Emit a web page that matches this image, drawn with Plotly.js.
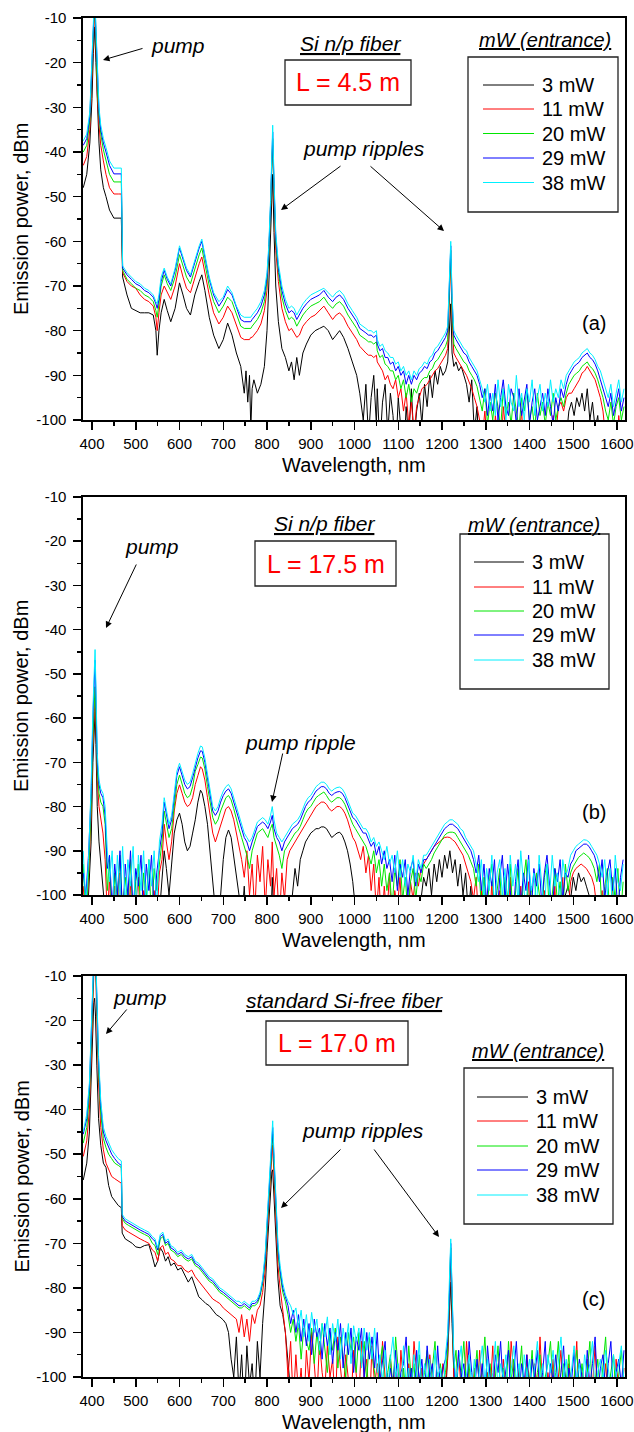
<!DOCTYPE html>
<html><head><meta charset="utf-8">
<script src="https://cdn.plot.ly/plotly-3.0.1.min.js"></script>
<style>html,body{margin:0;padding:0;background:#fff}#chart{width:634px;height:1432px}</style>
</head><body><div id="chart"></div>
<script>
// ---------------- DATA ----------------
const seriesNames = ['3 mW','11 mW','20 mW','29 mW','38 mW'];
const seriesColors = ['#000000','#ff0000','#00e600','#0000ff','#00f0ff'];
const xTickVals = [400,500,600,700,800,900,1000,1100,1200,1300,1400,1500,1600];
const xTickText = ['400','500','600','700','800','900','1000','1100','1200','1300','1400','1500','1600'];
const yTickVals = [-10,-20,-30,-40,-50,-60,-70,-80,-90,-100];
const yTickText = ['-10','-20','-30','-40','-50','-60','-70','-80','-90','-100'];

// Panel (a): Si n/p fiber, L = 4.5 m
const xA = [
380,388,395,400,403,406,409,412,416,420,
426,432,440,450,460,467,470,480,490,500,
510,520,530,540,546,549,553,558,565,572,
580,590,600,608,616,625,635,645,651,658,
668,678,690,700,710,720,730,740,748,752,
756,760,763,766,770,778,786,794,800,804,
808,811,813,816,820,826,834,842,850,856,
862,868,874,882,890,900,910,920,930,940,
950,958,966,975,985,995,1005,1012,1020,1026,
1032,1038,1044,1050,1052,1058,1064,1070,1076,1082,
1088,1094,1100,1106,1112,1118,1124,1130,1136,1142,
1148,1154,1160,1166,1172,1178,1184,1190,1196,1202,
1208,1213,1217,1220,1223,1227,1232,1238,1244,1250,
1256,1262,1268,1274,1280,1286,1292,1298,1304,1310,
1316,1322,1328,1334,1340,1346,1352,1358,1364,1370,
1376,1382,1388,1394,1400,1406,1412,1418,1424,1430,
1436,1442,1448,1454,1460,1466,1472,1478,1484,1490,
1496,1502,1508,1514,1520,1526,1532,1538,1544,1550,
1556,1562,1568,1574,1580,1586,1592,1598,1604,1610,
1616];
const a38 = [
-37.5,-36,-31,-20,-10,-4,-12,-22,-30,-34,
-37,-39,-42,-43.6,-43.6,-43.6,-65.5,-67,-68,-69,
-69.5,-70.5,-71,-72,-73.5,-74,-72,-68,-66,-68,
-69.5,-66,-61,-63.5,-66,-67.5,-64,-61,-59.5,-63,
-68,-71.5,-73.5,-72.5,-70,-71.5,-74.5,-76.5,-77,-77,
-77,-77,-77,-76.5,-76,-75,-73.5,-71,-67,-61,
-51,-38,-34,-46,-58,-65,-70,-73,-75,-74.5,
-75,-76.5,-75.5,-74,-73,-72,-71.5,-71,-70.5,-71.5,
-72.5,-71.5,-71,-72,-74,-75.5,-77,-78.5,-79,-79.5,
-80,-80,-80.5,-80,-82,-83.5,-83,-84.5,-85,-86,
-86,-87.5,-87,-89,-88,-90,-89,-91,-89,-90,
-88.5,-88,-87,-87.5,-86,-85.5,-84,-83.5,-82.5,-81.5,
-80.5,-79,-70,-60,-72,-80,-81,-82,-83,-84,
-84.5,-86,-87,-88,-89,-91,-93,-96,-92,-98,
-94,-99,-91,-97,-93,-100,-92,-96,-98,-90,
-97,-94,-100,-93,-96,-91,-99,-95,-92,-98,
-94,-97,-91,-96,-93,-95,-91,-93,-90,-89,
-88,-87,-86.5,-86,-85,-84.5,-84,-85,-85.5,-86.5,
-88,-89,-91,-93,-95,-92,-97,-94,-91,-96,
-93];
const a29 = [
-38.5,-37,-32,-21,-11,-5,-13,-23,-31,-35,
-38,-40,-43,-44.9,-44.9,-44.9,-66,-67.5,-68.5,-69.5,
-70,-71,-71.5,-72.5,-74,-75,-73,-69,-66.5,-68.5,
-70,-66.5,-61.5,-64,-66.5,-68,-64.5,-61.5,-60,-63.5,
-68.5,-72,-74.5,-73,-70.8,-72,-75,-77.5,-78,-78,
-78,-78,-78,-77.5,-77,-76,-74.5,-72,-68,-62,
-52,-39,-35.5,-47,-59,-66,-71,-74,-76,-75.5,
-76,-77.5,-76.5,-75,-74,-73,-72.5,-72,-71,-72.5,
-73.5,-72.5,-72,-73,-75,-76.5,-78,-79.5,-80,-80.5,
-81,-81,-81.5,-81,-83,-84.5,-84,-86,-86,-87.5,
-87,-89,-88,-90,-89,-92,-90,-92,-90,-91,
-89.5,-89,-88,-88.5,-87,-86.5,-85,-84.5,-83.5,-82.5,
-81.5,-80,-71,-61,-73,-81,-82,-83,-84,-85,
-85.5,-87,-88,-89,-90,-92,-95,-93,-99,-94,
-98,-92,-100,-95,-91,-97,-99,-93,-95,-101,
-93,-99,-95,-92,-101,-96,-93,-100,-97,-94,
-99,-93,-97,-101,-95,-98,-93,-95,-92,-90,
-89,-88,-87.5,-87,-86,-85.5,-85,-86,-86.5,-87.5,
-89,-91,-93,-95,-97,-94,-99,-96,-93,-98,
-95];
const a20 = [
-40,-38.5,-33,-22,-12,-6,-14,-25,-32,-36,
-39.5,-42,-45,-46.7,-46.7,-46.7,-66.5,-68.5,-69.5,-70.5,
-71,-72,-72.5,-73.5,-75.5,-77,-74,-70,-67.5,-69.5,
-71,-68,-63,-65.5,-68,-69.5,-66,-63,-61.5,-65,
-70,-73.5,-76,-74.5,-72.5,-73.5,-76.5,-79,-79.5,-79.5,
-79.5,-79.5,-79.5,-79,-78.5,-77.5,-76,-73.5,-69,-63,
-53,-40,-37,-48,-60,-67,-72.5,-75.5,-77.5,-77,
-77.5,-79,-78,-76.5,-75.5,-74.5,-74,-73.5,-72.5,-74,
-75,-74,-73.5,-74.5,-76.5,-78,-79.5,-81,-81.5,-82,
-82.5,-82.5,-83,-82.5,-84.5,-86,-85.5,-87.5,-88,-89,
-89,-91,-90,-93,-91,-95,-92,-96,-93,-94,
-92,-91,-90.5,-90.5,-89,-88.5,-87,-86.5,-85.5,-84.5,
-83.5,-82,-72,-62,-75,-83,-84,-85,-86,-87,
-87.5,-89,-90,-91,-92.5,-95,-98,-93,-101,-96,
-100,-94,-97,-102,-93,-99,-96,-101,-94,-98,
-102,-95,-98,-93,-100,-97,-102,-94,-99,-96,
-101,-96,-99,-94,-100,-97,-95,-97,-94,-92,
-91,-90,-89.5,-89,-88,-87.5,-87,-88,-88.5,-89.5,
-91,-93,-95,-98,-100,-96,-101,-97,-95,-100,
-97];
const a11 = [
-43,-41,-35,-24,-14,-8,-16,-27,-34,-38.5,
-42,-45,-48,-49.4,-49.4,-49.4,-67,-69,-70,-70.5,
-72,-73,-73.5,-74.5,-77,-80,-76,-72,-70,-71.5,
-73,-70,-65,-68,-70.5,-71.5,-68,-65,-63.5,-67,
-72,-76,-78.5,-77,-74.5,-76,-79,-81.5,-82,-82,
-82,-82,-81.5,-81.5,-81,-80,-78.5,-75.5,-71,-64,
-54,-42,-38.5,-50,-62,-69,-75,-78,-80,-79.5,
-80.5,-81.5,-81,-79,-78,-77,-76.5,-75.5,-74.5,-76,
-77.5,-76.5,-76,-77,-79,-80.5,-82,-83.5,-84.5,-85,
-85.5,-85.5,-86,-85.5,-87,-88,-89,-91,-90,-92,
-93,-91,-95,-93,-98,-94,-101,-96,-103,-97,
-95,-93,-92.5,-92,-91,-90,-89,-88.5,-87.5,-86.5,
-85.5,-84,-74,-64,-77,-85,-86,-87,-88,-89,
-90,-91.5,-93,-95,-97,-100,-104,-98,-106,-103,
-108,-99,-105,-110,-97,-104,-108,-100,-106,-110,
-104,-98,-108,-103,-110,-100,-106,-109,-101,-107,
-110,-103,-106,-99,-104,-97,-96,-98,-95,-94,
-94,-93,-92,-91,-89.5,-89,-88,-89,-90,-91,
-93,-95,-98,-104,-100,-108,-103,-110,-99,-105,
-107];
const a3 = [
-48,-45,-38,-28,-18,-12,-20,-30,-38,-44,
-48,-50,-53,-54.8,-54.8,-54.8,-68,-72,-75,-75.5,
-76,-76,-76,-76.5,-80,-85.5,-80,-76,-73,-75.5,
-78,-75,-69.3,-72,-75,-76.5,-72,-69,-67.5,-71,
-77,-81,-84,-82,-78.3,-81,-85,-88,-94,-89,
-96,-90,-102,-93,-91,-94,-92,-88,-80,-70,
-58,-48,-45,-58,-70,-78,-84,-86,-89,-87,
-91,-86,-90,-85,-83,-81,-80,-79.5,-79,-80,
-82,-81,-80,-81.5,-84,-87,-90,-94,-100,-92,
-104,-95,-90,-101,-93,-106,-96,-92,-103,-94,
-99,-108,-95,-102,-110,-97,-104,-93,-105,-98,
-94,-101,-92,-97,-90,-95,-89,-92,-88,-90,
-89,-87,-80,-74,-85,-88,-87,-89,-88,-90,
-92,-96,-91,-103,-97,-110,-104,-112,-108,-115,
-110,-105,-115,-108,-112,-104,-115,-109,-113,-106,
-112,-107,-115,-104,-110,-113,-106,-115,-108,-112,
-105,-113,-107,-112,-103,-110,-102,-100,-104,-98,
-96,-99,-95,-97,-94,-98,-93,-100,-96,-102,
-99,-106,-101,-110,-104,-112,-107,-115,-105,-111,
-108];

// Panel (b): Si n/p fiber, L = 17.5 m
const xB = [
380,386,392,398,402,405,407,409,412,416,
420,425,430,435,440,446,452,458,464,470,
476,482,488,494,500,506,512,518,524,530,
536,542,548,554,560,565,570,576,582,588,
594,600,606,612,618,624,630,636,642,648,
652,658,664,670,676,682,688,694,700,706,
712,718,724,730,736,742,748,754,760,766,
772,778,784,790,796,802,808,812,816,822,
828,834,840,846,852,858,864,870,876,882,
888,894,900,906,912,918,924,930,936,942,
948,954,960,966,972,978,984,990,996,1002,
1008,1014,1020,1026,1032,1038,1044,1050,1056,1062,
1068,1074,1080,1086,1092,1098,1104,1110,1116,1122,
1128,1134,1140,1146,1152,1158,1164,1170,1176,1182,
1188,1194,1200,1206,1212,1218,1224,1230,1236,1242,
1248,1254,1260,1266,1272,1278,1284,1290,1296,1302,
1308,1314,1320,1326,1332,1338,1344,1350,1356,1362,
1368,1374,1380,1386,1392,1398,1404,1410,1416,1422,
1428,1434,1440,1446,1452,1458,1464,1470,1476,1482,
1488,1494,1500,1506,1512,1518,1524,1530,1536,1542,
1548,1554,1560,1566,1572,1578,1584,1590,1596,1602,
1608,1614];
const b38 = [
-90,-103,-92,-75,-58,-47,-44.5,-53,-68,-74,
-76,-77,-80,-90,-97,-90,-104,-91,-100,-89,
-102,-92,-98,-89,-105,-91,-99,-90,-104,-92,
-98,-90,-103,-88,-84,-78,-81,-84,-82,-77,
-72,-70.2,-72,-74,-75,-74.5,-72.5,-70,-68,-66.3,
-66.5,-69,-73,-77,-80,-81,-80,-78,-76.5,-75.5,
-75,-76,-78,-80,-82,-84,-86,-87,-88,-87,
-85,-83.5,-83,-82.5,-83,-84,-82,-80,-83,-86,
-87,-88,-87,-86,-85,-84,-83.5,-83,-82,-80.5,
-79,-78,-77.5,-76.5,-75.5,-75,-74.5,-74.5,-75,-76,
-76.5,-76,-75.7,-75.6,-76,-77,-78.5,-80,-81.5,-82,
-83,-84,-85,-85,-86,-88,-87,-89,-88,-90,
-92,-89,-93,-91,-95,-90,-96,-92,-98,-93,
-95,-91,-97,-92,-94,-91,-91,-90,-89,-88,
-87,-86,-85,-84,-83.5,-83,-83,-83.5,-84,-85,
-85.5,-87,-88,-89,-90,-93,-97,-92,-101,-94,
-99,-91,-103,-95,-92,-100,-94,-104,-91,-98,
-93,-102,-90,-97,-104,-92,-99,-95,-103,-91,
-97,-104,-93,-100,-91,-98,-95,-103,-92,-96,
-94,-91,-90,-89,-88.5,-88,-87.5,-87.6,-88,-89,
-90,-91,-93,-96,-92,-100,-94,-103,-91,-97,
-99,-93];
const b29 = [
-95,-100,-91,-77,-60,-49,-46.9,-55,-70,-75,
-77,-78,-82,-94,-91,-103,-93,-100,-90,-106,
-93,-100,-90,-104,-94,-98,-91,-106,-93,-99,
-91,-104,-95,-90,-86,-79,-82,-85,-83,-78,
-73,-71,-73,-75,-76,-75.5,-73.5,-71,-69,-67.4,
-67.5,-70,-74,-78,-81,-82,-81,-79,-77.5,-76.5,
-76,-77,-79,-81,-83,-85,-87,-88,-90,-88,
-86,-84.5,-84,-83.5,-84,-85,-83.5,-82,-85,-87,
-88,-90,-88,-87,-86,-85,-84.5,-84,-83,-81.5,
-80,-79,-78.5,-77.5,-76.5,-76,-75.5,-75.5,-76,-77,
-77.5,-77,-76.7,-76.6,-77,-78,-79.5,-81,-82.5,-83,
-84,-85,-86,-86,-87.5,-89,-88,-91,-89,-93,
-90,-94,-92,-97,-91,-99,-93,-96,-92,-100,
-94,-92,-98,-93,-95,-92,-92,-91,-90,-89,
-88,-87,-86,-85,-84.5,-84,-84,-84.5,-85,-86,
-87,-88,-89,-90,-92,-95,-91,-99,-93,-102,
-94,-98,-92,-105,-96,-91,-101,-93,-99,-106,
-97,-92,-103,-95,-99,-91,-104,-94,-98,-93,
-102,-95,-91,-99,-105,-94,-97,-92,-101,-95,
-96,-93,-92,-90,-89.5,-89,-88.5,-88.5,-89,-90,
-91,-93,-97,-92,-101,-95,-92,-99,-94,-104,
-96,-92];
const b20 = [
-93,-106,-95,-80,-64,-54,-52.9,-58,-72,-77,
-79,-80,-84,-99,-92,-107,-95,-101,-91,-104,
-96,-102,-92,-107,-97,-93,-105,-95,-101,-92,
-106,-94,-99,-93,-88,-81,-84,-87,-85,-80,
-75,-72.9,-75,-77,-78,-77.5,-75.5,-72,-70.5,-68.8,
-69,-71.5,-75.5,-79.5,-82.5,-84,-83,-81,-79.5,-78,
-77.5,-78.5,-80.5,-83,-85,-87,-89,-91,-94,-90,
-88,-86,-85.5,-85,-86,-87,-85,-84,-87,-89,
-91,-94,-90,-89,-88,-87,-86,-85.5,-84.5,-83,
-81.5,-80.5,-80,-79,-78,-77.5,-77,-76.7,-77.5,-78.5,
-79,-78.5,-78,-78,-78.5,-79.5,-81,-82.5,-84,-85,
-86,-87,-88,-89,-91,-93,-90,-95,-92,-98,
-93,-99,-95,-103,-94,-98,-92,-101,-96,-104,
-97,-94,-101,-95,-97,-93,-94,-93,-92,-90.5,
-89.5,-88.5,-87.5,-86.5,-86,-85.8,-85.8,-86,-87,-88,
-89,-90,-91,-92.5,-94,-98,-93,-103,-96,-105,
-97,-93,-104,-99,-94,-107,-96,-101,-93,-105,
-99,-94,-106,-97,-92,-103,-98,-105,-95,-100,
-104,-96,-93,-106,-99,-94,-102,-97,-105,-93,
-99,-95,-93.5,-92.5,-91.5,-91,-90.5,-91,-91.5,-92.5,
-94,-97,-93,-104,-98,-94,-106,-96,-101,-94,
-105,-97];
const b11 = [
-98,-108,-96,-82,-66,-57,-55.5,-61,-74,-80,
-83,-86,-92,-105,-96,-110,-98,-106,-95,-112,
-100,-108,-97,-112,-102,-96,-110,-99,-107,-101,
-112,-99,-106,-95,-92,-84,-88,-92,-88,-81,
-77,-75.1,-77,-79,-80,-79.5,-78,-75,-73,-71,
-71.5,-74,-78,-82,-86,-88,-86,-84,-82,-80.5,
-80,-81,-83,-86,-89,-92,-96,-90,-100,-93,
-104,-91,-97,-89,-103,-92,-98,-88,-100,-94,
-106,-95,-101,-92,-90,-89,-88,-87,-86,-85,
-84,-83,-82,-81,-80,-79.5,-79,-79,-79.5,-80.5,
-81,-80.5,-80,-80,-80.5,-81.5,-83,-85,-87,-88,
-90,-92,-89,-95,-91,-99,-93,-104,-96,-108,
-98,-105,-95,-110,-99,-103,-96,-108,-100,-106,
-97,-101,-95,-98,-94,-93,-92,-91,-90,-89,
-88.5,-88,-87.5,-87,-86.9,-87,-87.5,-88,-89,-90,
-91,-93,-95,-97,-101,-96,-106,-99,-110,-103,
-108,-97,-112,-104,-99,-110,-102,-107,-96,-112,
-103,-109,-98,-111,-104,-97,-110,-105,-112,-100,
-107,-99,-112,-103,-108,-98,-111,-104,-96,-109,
-104,-97,-95,-94,-93.5,-93,-93.5,-94,-95,-96,
-98,-103,-108,-99,-112,-104,-110,-97,-106,-111,
-101,-108];
const b3 = [
-105,-112,-100,-88,-70,-62,-58.6,-66,-80,-88,
-92,-98,-104,-112,-108,-115,-110,-113,-106,-115,
-110,-114,-107,-115,-109,-113,-106,-115,-111,-108,
-114,-107,-112,-104,-98,-90,-94,-100,-93,-86,
-83,-81.5,-84,-88,-90,-89,-86,-83,-79,-76.3,
-77,-80,-84,-90,-96,-104,-110,-100,-92,-87,
-85.3,-87,-91,-95,-100,-106,-98,-110,-103,-115,
-108,-100,-112,-105,-114,-102,-110,-96,-106,-113,
-110,-115,-104,-112,-106,-100,-94,-98,-92,-90,
-88,-87,-86,-85.5,-85,-85,-84.6,-84.6,-85,-86,
-87,-86.5,-86,-85.8,-86.5,-88,-90,-93,-97,-103,
-110,-104,-115,-108,-113,-106,-115,-109,-112,-107,
-114,-108,-112,-105,-115,-110,-106,-113,-108,-114,
-107,-112,-104,-110,-101,-96,-98,-94,-100,-93,
-97,-92,-96,-91,-94,-90,-95,-92,-98,-93,
-100,-95,-104,-98,-110,-104,-112,-106,-115,-108,
-113,-106,-115,-109,-112,-105,-114,-108,-115,-110,
-106,-113,-109,-115,-107,-112,-110,-114,-106,-113,
-109,-115,-107,-112,-110,-114,-105,-111,-104,-100,
-98,-101,-96,-99,-95,-97,-96,-98,-100,-103,
-108,-112,-106,-114,-109,-115,-107,-112,-110,-114,
-108,-113];

// Panel (c): standard Si-free fiber, L = 17.0 m
const xC = [
380,388,394,398,401,404,406,408,411,415,
420,426,432,438,445,452,460,467,469,476,
484,492,500,510,520,530,538,544,550,556,
562,568,574,580,588,596,604,612,620,628,
636,644,652,660,668,676,684,692,700,706,
712,718,724,730,736,742,748,754,760,766,
772,778,784,790,796,800,804,808,811,813,
816,820,825,830,836,842,848,854,860,866,
872,878,884,890,896,902,908,914,920,926,
932,938,944,950,956,962,968,974,980,986,
992,998,1004,1010,1016,1022,1028,1034,1040,1046,
1052,1058,1064,1070,1076,1082,1088,1094,1100,1106,
1112,1118,1124,1130,1136,1142,1148,1154,1160,1166,
1172,1178,1184,1190,1196,1202,1208,1213,1217,1220,
1223,1227,1232,1238,1244,1250,1256,1262,1268,1274,
1280,1286,1292,1298,1304,1310,1316,1322,1328,1334,
1340,1346,1352,1358,1364,1370,1376,1382,1388,1394,
1400,1406,1412,1418,1424,1430,1436,1442,1448,1454,
1460,1466,1472,1478,1484,1490,1496,1502,1508,1514,
1520,1526,1532,1538,1544,1550,1556,1562,1568,1574,
1580,1586,1592,1598,1604,1610,1616];
const c38 = [
-45,-41,-34,-22,-10,-2,0,-3,-14,-28,
-38,-44,-46,-47.5,-49,-50,-51,-51.5,-63.5,-64.5,
-65,-65.5,-66,-66.5,-67,-67.5,-68.5,-69,-71,-68,
-67.5,-69.5,-69,-70.5,-71,-72,-71.5,-72.5,-73,-72.5,
-74,-74.5,-75.5,-76.5,-77.5,-78,-79,-80,-80.5,-81,
-81.5,-82,-82.5,-83,-83,-83.5,-83,-83.5,-84,-83,
-83,-82.5,-81,-78,-72,-65,-58,-50,-44,-42.5,
-50,-61,-70,-75,-79,-81.5,-83,-84,-86,-84.5,
-89,-85,-91,-86,-92,-85.5,-90,-87,-94,-88,
-91,-86.5,-95,-88,-92,-87,-96,-89,-93,-88,
-97,-88.5,-92,-89,-98,-89,-94,-90,-96,-89,
-99,-95,-101,-94,-103,-96,-91,-100,-97,-104,
-93,-102,-98,-105,-95,-100,-92,-104,-97,-101,
-96,-103,-94,-100,-98,-105,-95,-90,-80,-69,
-80,-95,-101,-97,-93,-104,-99,-95,-102,-96,
-105,-98,-93,-101,-96,-104,-99,-92,-103,-97,
-100,-95,-104,-98,-93,-101,-97,-105,-95,-100,
-96,-103,-98,-92,-101,-97,-104,-95,-99,-94,
-102,-97,-91,-100,-96,-104,-98,-93,-101,-97,
-103,-95,-100,-97,-92,-104,-99,-96,-101,-94,
-98,-103,-95,-100,-97,-93,-101];
const c29 = [
-45.5,-42,-35,-23,-11,-3,-1,-4,-15,-29,
-39,-45,-47,-48.5,-50,-51,-52,-52.5,-64,-65,
-65.5,-66,-66.5,-67,-67.5,-68,-69,-69.5,-71.5,-68.5,
-68,-70,-69.5,-71,-71.5,-72.5,-72,-73,-73.5,-73,
-74.5,-75,-76,-77,-78,-78.5,-79.5,-80.5,-81,-81.5,
-82,-82.5,-83,-83.5,-84,-84,-83.5,-84,-84.5,-83.5,
-83.5,-83,-81.5,-78.5,-73,-66,-59,-51,-45,-44,
-51,-62,-71,-76,-80,-82,-84,-88,-85,-90,
-86,-92,-87,-93,-88,-95,-87,-91,-89,-96,
-88,-93,-89,-97,-90,-94,-88,-98,-90,-95,
-89,-99,-91,-94,-89,-100,-90,-96,-91,-98,
-90,-101,-96,-92,-104,-98,-102,-94,-105,-99,
-97,-91,-103,-98,-106,-94,-101,-96,-104,-93,
-100,-97,-105,-93,-102,-98,-96,-92,-81,-70,
-81,-96,-103,-94,-100,-97,-105,-92,-99,-104,
-96,-102,-97,-106,-93,-100,-104,-95,-99,-92,
-103,-98,-94,-106,-99,-92,-104,-97,-101,-95,
-105,-96,-100,-94,-103,-99,-92,-106,-97,-101,
-95,-104,-99,-93,-106,-98,-101,-94,-103,-96,
-100,-105,-94,-102,-97,-91,-104,-98,-95,-103,
-97,-92,-104,-99,-96,-102,-94];
const c20 = [
-47.5,-44,-37,-25,-12,-4,-2,-5,-16,-31,
-41,-46.5,-48.5,-50,-51,-52,-52.5,-53,-64.5,-65.5,
-66,-66.5,-67,-67.5,-68,-68.5,-70,-70.5,-72.5,-69,
-68.5,-70.5,-70,-71.5,-72,-73,-72.5,-73.5,-74,-73.5,
-75,-75.5,-76.5,-77.5,-78.5,-79,-80,-81,-81.5,-82,
-82.5,-83,-83.5,-84,-84.5,-84.5,-84,-84.5,-85,-84,
-84,-83.5,-82,-79,-74,-67,-60,-52,-46,-45.5,
-52,-63,-72,-77,-81,-83,-86,-90,-87,-92,
-88,-96,-89,-92,-94,-89,-97,-90,-95,-88,
-93,-99,-90,-94,-89,-98,-91,-95,-100,-90,
-94,-91,-99,-90,-97,-92,-101,-91,-95,-99,
-103,-97,-93,-105,-99,-95,-103,-91,-100,-106,
-98,-104,-93,-101,-97,-106,-95,-102,-99,-94,
-104,-98,-92,-103,-97,-101,-99,-94,-82,-71,
-82,-98,-94,-105,-99,-92,-103,-97,-106,-100,
-94,-104,-99,-91,-102,-97,-105,-100,-93,-103,
-98,-105,-92,-101,-96,-104,-100,-93,-106,-98,
-101,-94,-104,-99,-95,-106,-100,-97,-92,-103,
-99,-92,-104,-97,-101,-95,-105,-100,-94,-102,
-97,-103,-99,-92,-105,-101,-96,-104,-98,-91,
-103,-99,-95,-105,-100,-94,-102];
const c11 = [
-50.5,-47,-40,-28,-14,-6,-4,-8,-19,-34,
-44,-49,-52,-53.5,-55,-55.5,-56,-56.5,-66,-67,
-67.5,-68,-68.5,-69,-69.5,-70,-71.5,-72,-74,-71,
-70.5,-72.5,-72,-73.5,-74,-75,-75,-76,-76.5,-76,
-77.5,-78.5,-79.5,-80.5,-81.5,-82.5,-83,-83.5,-84.5,-85,
-85.5,-86,-86.5,-87,-90,-86,-91,-87,-92,-86,
-88,-85,-84,-81,-76,-70,-62,-55,-49,-48,
-55,-66,-75,-80,-85,-90,-100,-92,-106,-95,
-104,-98,-108,-94,-101,-90,-97,-105,-92,-99,
-103,-93,-100,-96,-107,-91,-98,-104,-95,-101,
-106,-94,-99,-105,-92,-100,-96,-108,-93,-102,
-97,-105,-92,-101,-108,-96,-103,-99,-107,-94,
-102,-109,-97,-104,-92,-101,-106,-98,-103,-110,
-95,-102,-107,-99,-104,-97,-101,-96,-84,-73.5,
-84,-100,-106,-95,-103,-109,-92,-101,-105,-98,
-107,-94,-102,-108,-99,-104,-93,-106,-100,-109,
-96,-103,-108,-92,-101,-106,-98,-104,-109,-95,
-102,-107,-97,-105,-91,-103,-108,-99,-104,-96,
-106,-100,-94,-103,-108,-97,-105,-101,-92,-107,
-99,-104,-96,-108,-102,-93,-106,-100,-104,-97,
-105,-101,-108,-96,-103,-106,-98];
const c3 = [
-55.8,-52,-45,-33,-22,-16,-15,-19,-30,-42,
-48,-52,-53,-57,-59.5,-60.5,-61.5,-62,-67.7,-69,
-69.5,-70,-70.8,-71,-70.5,-70.3,-73,-75.3,-74,-71,
-72,-74,-73,-75,-74.4,-76,-75.5,-77,-78.7,-77.5,
-80,-82,-82.7,-83.5,-84,-85,-86,-86.5,-87.2,-88,
-90,-96,-100,-91,-104,-95,-108,-93,-102,-97,
-106,-92,-100,-88,-80,-72,-65,-58,-54,-53.5,
-60,-70,-78,-84,-86,-90,-97,-104,-110,-100,
-112,-105,-115,-108,-112,-104,-115,-110,-113,-106,
-114,-109,-112,-105,-115,-110,-106,-113,-108,-115,
-110,-104,-113,-107,-115,-109,-112,-106,-114,-108,
-112,-105,-115,-108,-111,-104,-114,-109,-113,-106,
-115,-108,-112,-105,-114,-110,-107,-113,-109,-115,
-108,-112,-106,-114,-109,-112,-105,-95,-85,-78.7,
-88,-104,-112,-108,-114,-106,-112,-108,-115,-104,
-112,-108,-114,-106,-112,-109,-115,-107,-113,-110,
-105,-112,-108,-114,-106,-111,-109,-115,-107,-112,
-110,-106,-113,-108,-114,-105,-112,-109,-115,-107,
-112,-108,-114,-106,-113,-110,-107,-115,-108,-112,
-106,-113,-109,-114,-107,-112,-110,-105,-113,-108,
-111,-107,-114,-109,-112,-106,-110];

// ---------------- LAYOUT / DRAWING ----------------
const FONT = 'Liberation Sans, Arial, Helvetica, sans-serif';
const W = 634, H = 1432, ML = 83, MR = 9;
const PW = W - ML - MR;
const X = p => (p - ML) / PW;     // pixel -> paper x
const Y = p => 1 - p / H;         // pixel -> paper y

const panels = [
  {x: xA, ys: [a3, a11, a20, a29, a38], top: 18, bottom: 420, tag: '(a)', tagPos: [594, 323],
   fiber: 'Si n/p fiber', fiberPos: [350, 43], L: 'L = 4.5 m', box: [285, 60, 411, 105],
   pumpText: [178, 45], pumpArrow: [[144, 48], [103, 60]],
   ripText: 'pump ripples', ripPos: [364, 148], ripArrows: [[[342, 165], [281, 210]], [[369, 165], [444, 231]]],
   mwPos: [545, 40], legBox: [468, 57, 618, 212], legLine: [483, 534], legText: 540, legRows: [85, 109, 133.5, 158, 182.5]},
  {x: xB, ys: [b3, b11, b20, b29, b38], top: 497, bottom: 895, tag: '(b)', tagPos: [594, 812],
   fiber: 'Si n/p fiber', fiberPos: [324, 523], L: 'L = 17.5 m', box: [255, 541, 396, 586],
   pumpText: [152, 546], pumpArrow: [[137, 563], [106, 628]],
   ripText: 'pump ripple', ripPos: [300, 742], ripArrows: [[[283, 752], [272, 802]]],
   mwPos: [534, 525], legBox: [460, 534, 609, 689], legLine: [474, 524], legText: 530, legRows: [562, 587, 611, 635, 660]},
  {x: xC, ys: [c3, c11, c20, c29, c38], top: 976, bottom: 1377, tag: '(c)', tagPos: [593, 1299],
   fiber: 'standard Si-free fiber', fiberPos: [344, 1000], L: 'L = 17.0 m', box: [266, 1021, 408, 1065],
   pumpText: [140, 997], pumpArrow: [[128, 1008], [106, 1034]],
   ripText: 'pump ripples', ripPos: [363, 1130], ripArrows: [[[342, 1148], [281, 1208]], [[373, 1148], [439, 1237]]],
   mwPos: [538, 1051], legBox: [464, 1068, 613, 1224], legLine: [477, 528], legText: 534, legRows: [1097, 1121, 1146, 1170, 1195]}
];

const xMinor = []; for (let v = 450; v <= 1600; v += 100) xMinor.push(v);
const yMinor = []; for (let v = -15; v >= -95; v -= 10) yMinor.push(v);

const traces = [], annotations = [], shapes = [];
const layout = {
  width: W, height: H, margin: {l: ML, r: MR, t: 0, b: 0},
  paper_bgcolor: '#fff', plot_bgcolor: '#fff', showlegend: false,
  font: {family: FONT, color: '#000'}, annotations, shapes
};

panels.forEach((p, i) => {
  const sfx = i === 0 ? '' : String(i + 1);
  p.ys.forEach((ys, k) => {
    traces.push({type: 'scatter', mode: 'lines', x: p.x, y: ys, name: seriesNames[k],
      xaxis: 'x' + sfx, yaxis: 'y' + sfx, line: {color: seriesColors[k], width: 1}, hoverinfo: 'skip'});
  });
  const axCommon = {showline: true, linewidth: 1.6, linecolor: '#000', mirror: true, showgrid: false, zeroline: false,
    ticks: 'outside', ticklen: 8, tickwidth: 1.5, tickcolor: '#000', tickmode: 'array',
    ticklabeloverflow: 'allow',
    tickfont: {family: FONT, size: 15, color: '#000'}};
  layout['xaxis' + sfx] = Object.assign({}, axCommon, {
    domain: [0, 1], anchor: 'y' + sfx, range: [379.4, 1618.3], tickvals: xTickVals, ticktext: xTickText,
    ticklabelstandoff: 1,
    minor: {tickmode: 'array', tickvals: xMinor, ticks: 'outside', ticklen: 4, tickwidth: 1.5, tickcolor: '#000'}});
  layout['yaxis' + sfx] = Object.assign({}, axCommon, {
    domain: [Y(p.bottom), Y(p.top)], anchor: 'x' + sfx, range: [-100, -10], tickvals: yTickVals, ticktext: yTickText,
    ticklabelstandoff: 4,
    minor: {tickmode: 'array', tickvals: yMinor, ticks: 'outside', ticklen: 4, tickwidth: 1.5, tickcolor: '#000'}});

  const txt = (cx, cy, text, size, extra) => annotations.push(Object.assign({
    xref: 'paper', yref: 'paper', x: X(cx), y: Y(cy), text, showarrow: false,
    xanchor: 'center', yanchor: 'middle', font: {family: FONT, size, color: '#000'}}, extra || {}));
  const arrow = (tail, head) => annotations.push({
    xref: 'paper', yref: 'paper', x: X(head[0]), y: Y(head[1]), ax: tail[0] - head[0], ay: tail[1] - head[1],
    text: '', showarrow: true, arrowhead: 2, arrowsize: 1.3, arrowwidth: 1, arrowcolor: '#000'});

  // axis titles
  txt(354, p.bottom + 45, 'Wavelength, nm', 20);
  txt(21, (p.top + p.bottom) / 2, 'Emission power, dBm', 20, {textangle: -90});
  // annotations
  txt(p.pumpText[0], p.pumpText[1], '<i>pump</i>', 21);
  arrow(p.pumpArrow[0], p.pumpArrow[1]);
  txt(p.fiberPos[0], p.fiberPos[1], '<i><u>' + p.fiber + '</u></i>', 21);
  shapes.push({type: 'rect', xref: 'paper', yref: 'paper', x0: X(p.box[0]), x1: X(p.box[2]), y0: Y(p.box[1]), y1: Y(p.box[3]),
    line: {color: '#222', width: 1.3}});
  txt((p.box[0] + p.box[2]) / 2, (p.box[1] + p.box[3]) / 2, p.L, 25, {font: {family: FONT, size: 25, color: '#ff0000'}});
  txt(p.ripPos[0], p.ripPos[1], '<i>' + p.ripText + '</i>', 21);
  p.ripArrows.forEach(a => arrow(a[0], a[1]));
  txt(p.tagPos[0], p.tagPos[1], p.tag, 20);
  // legend
  txt(p.mwPos[0], p.mwPos[1], '<i><u>mW (entrance)</u></i>', 20);
  shapes.push({type: 'rect', xref: 'paper', yref: 'paper', x0: X(p.legBox[0]), x1: X(p.legBox[2]), y0: Y(p.legBox[1]), y1: Y(p.legBox[3]),
    line: {color: '#222', width: 1.3}});
  seriesNames.forEach((nm, k) => {
    const ry = p.legRows[k];
    shapes.push({type: 'line', xref: 'paper', yref: 'paper', x0: X(p.legLine[0]), x1: X(p.legLine[1]), y0: Y(ry), y1: Y(ry),
      line: {color: seriesColors[k], width: 1}});
    txt(p.legText, ry, nm, 20, {xanchor: 'left'});
  });
});

Plotly.newPlot('chart', traces, layout, {staticPlot: true, displayModeBar: false});
</script>
</body></html>
